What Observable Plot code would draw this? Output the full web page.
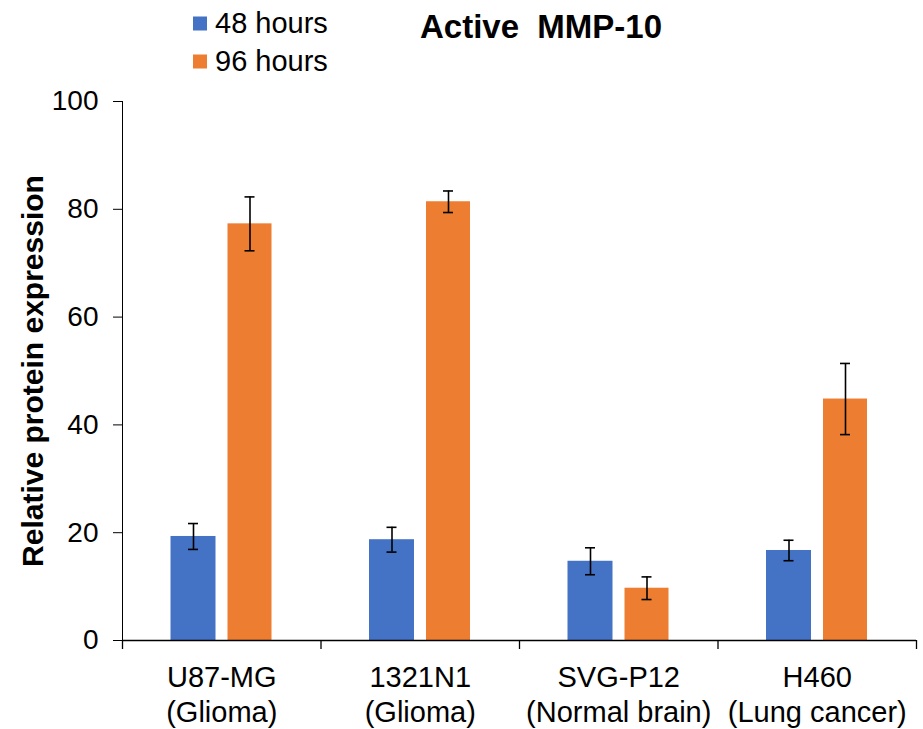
<!DOCTYPE html>
<html>
<head>
<meta charset="utf-8">
<script src="https://cdn.jsdelivr.net/npm/d3@7"></script>
<script src="https://cdn.jsdelivr.net/npm/@observablehq/plot@0.6"></script>
<style>
  html, body { margin: 0; padding: 0; background: #fff; }
  #wrap { position: relative; width: 923px; height: 729px; font-family: "Liberation Sans", Arial, sans-serif; }
  #wrap svg { position: absolute; left: 0; top: 0; }
  .title { position: absolute; left: 541px; top: 27px; transform: translate(-50%, -50%); font-size: 33px; font-weight: bold; white-space: pre; color: #000; }
  .leg { position: absolute; left: 193px; display: flex; align-items: center; font-size: 29px; color: #000; transform: translateY(-50%); }
  .sw { width: 14px; height: 14px; margin-right: 8px; }
</style>
</head>
<body>
<div id="wrap"></div>
<script>
const groups = ["U87-MG", "1321N1", "SVG-P12", "H460"];
const subLabels = ["(Glioma)", "(Glioma)", "(Normal brain)", "(Lung cancer)"];
const series = ["48 hours", "96 hours"];
const colors = ["#4472C4", "#ED7D31"];
const mean48 = [19.3, 18.7, 14.7, 16.7];
const err48 = [2.4, 2.3, 2.5, 1.9];
const mean96 = [77.3, 81.4, 9.7, 44.8];
const err96 = [5.0, 2.0, 2.1, 6.6];
const yTicks = [0, 20, 40, 60, 80, 100];
const title = "Active  MMP-10";
const yLabel = "Relative protein expression";

const rows48 = groups.map((g, i) => ({group: g, value: mean48[i], lo: mean48[i] - err48[i], hi: mean48[i] + err48[i]}));
const rows96 = groups.map((g, i) => ({group: g, value: mean96[i], lo: mean96[i] - err96[i], hi: mean96[i] + err96[i]}));

const step = (916 - 122) / groups.length;
const half = step / 2;

const chart = Plot.plot({
  width: 923,
  height: 729,
  marginTop: 101,
  marginBottom: 89,
  marginLeft: 122,
  marginRight: 7,
  style: {fontFamily: "Liberation Sans, Arial, sans-serif", fontSize: "28px", color: "#000", background: "#fff"},
  x: {domain: groups, padding: 0, round: false, axis: null},
  y: {domain: [0, 100], ticks: yTicks, tickSize: 9, tickPadding: 15, line: true, label: null, tickFormat: d => d},
  marks: [
    Plot.barY(rows48, {x: "group", y: "value", fill: colors[0], insetLeft: 48.5, insetRight: 105}),
    Plot.barY(rows96, {x: "group", y: "value", fill: colors[1], insetLeft: 105.5, insetRight: 49}),
    Plot.ruleX(rows48, {x: "group", y1: "lo", y2: "hi", dx: -28.25, stroke: "#000", strokeWidth: 1.6}),
    Plot.ruleX(rows96, {x: "group", y1: "lo", y2: "hi", dx: 28.25, stroke: "#000", strokeWidth: 1.6}),
    Plot.tickY(rows48, {x: "group", y: "lo", insetLeft: 66, insetRight: step - 76, stroke: "#000", strokeWidth: 1.6}),
    Plot.tickY(rows48, {x: "group", y: "hi", insetLeft: 66, insetRight: step - 76, stroke: "#000", strokeWidth: 1.6}),
    Plot.tickY(rows96, {x: "group", y: "lo", insetLeft: step - 76, insetRight: 66, stroke: "#000", strokeWidth: 1.6}),
    Plot.tickY(rows96, {x: "group", y: "hi", insetLeft: step - 76, insetRight: 66, stroke: "#000", strokeWidth: 1.6}),
    Plot.ruleY([0], {stroke: "#000", strokeWidth: 1.3}),
    Plot.ruleX(groups, {x: d => d, y1: 0, y2: 0, dx: -half, insetBottom: -9, stroke: "#000", strokeWidth: 1.3}),
    Plot.ruleX([groups[groups.length - 1]], {x: d => d, y1: 0, y2: 0, dx: half, insetBottom: -9, stroke: "#000", strokeWidth: 1.3}),
    Plot.text(groups, {x: d => d, y: () => 0, text: d => d, dy: 37, fontSize: 29, fill: "#000"}),
    Plot.text(groups, {x: d => d, y: () => 0, text: (d, i) => subLabels[i], dy: 72, fontSize: 29, fill: "#000"}),
    Plot.text([yLabel], {frameAnchor: "left", textAnchor: "middle", text: d => d, rotate: -90, dx: -89, fontSize: 30, fontWeight: "bold", fill: "#000"})
  ]
});

const wrap = document.getElementById("wrap");
wrap.appendChild(chart);

const t = document.createElement("div");
t.className = "title";
t.textContent = title;
wrap.appendChild(t);

series.forEach((s, i) => {
  const d = document.createElement("div");
  d.className = "leg";
  d.style.top = (23 + i * 38) + "px";
  const sw = document.createElement("div");
  sw.className = "sw";
  sw.style.background = colors[i];
  const lab = document.createElement("span");
  lab.textContent = s;
  d.appendChild(sw);
  d.appendChild(lab);
  wrap.appendChild(d);
});
</script>
</body>
</html>
